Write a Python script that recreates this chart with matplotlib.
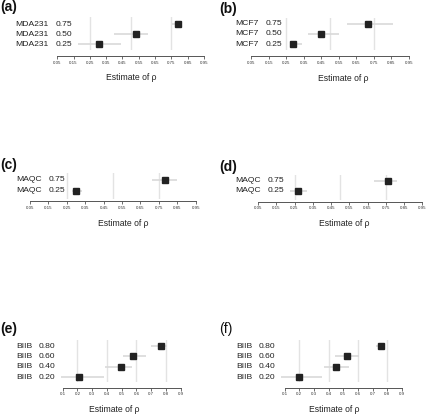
import matplotlib
matplotlib.use("Agg")
import matplotlib.pyplot as plt
import matplotlib.transforms as mtransforms
import numpy as np

plt.rcParams['font.family'] = ['Liberation Sans', 'DejaVu Sans']

# ---- data ----
names_a = ["MDA231", "MDA231", "MDA231"]
nominal_a = ["0.75", "0.50", "0.25"]
est_a = [0.789, 0.531, 0.306]
lo_a = [0.752, 0.398, 0.179]
hi_a = [0.813, 0.608, 0.440]

names_b = ["MCF7", "MCF7", "MCF7"]
nominal_b = ["0.75", "0.50", "0.25"]
est_b = [0.720, 0.449, 0.288]
lo_b = [0.595, 0.377, 0.270]
hi_b = [0.860, 0.553, 0.340]

names_c = ["MAQC", "MAQC"]
nominal_c = ["0.75", "0.25"]
est_c = [0.781, 0.301]
lo_c = [0.713, 0.277]
hi_c = [0.849, 0.332]

names_d = ["MAQC", "MAQC"]
nominal_d = ["0.75", "0.25"]
est_d = [0.763, 0.268]
lo_d = [0.687, 0.226]
hi_d = [0.810, 0.318]

names_e = ["BIIB", "BIIB", "BIIB", "BIIB"]
nominal_e = ["0.80", "0.60", "0.40", "0.20"]
est_e = [0.764, 0.577, 0.493, 0.208]
lo_e = [0.697, 0.507, 0.387, 0.090]
hi_e = [0.805, 0.665, 0.572, 0.382]

names_f = ["BIIB", "BIIB", "BIIB", "BIIB"]
nominal_f = ["0.80", "0.60", "0.40", "0.20"]
est_f = [0.755, 0.523, 0.450, 0.200]
lo_f = [0.723, 0.445, 0.368, 0.075]
hi_f = [0.785, 0.607, 0.541, 0.357]

ticks_abcd = [0.05, 0.15, 0.25, 0.35, 0.45, 0.55, 0.65, 0.75, 0.85, 0.95]
tick_labels_abcd = ["0.05", "0.15", "0.25", "0.35", "0.45", "0.55", "0.65", "0.75", "0.85", "0.95"]
ticks_ef = [0.1, 0.2, 0.3, 0.4, 0.5, 0.6, 0.7, 0.8, 0.9]
tick_labels_ef = ["0.1", "0.2", "0.3", "0.4", "0.5", "0.6", "0.7", "0.8", "0.9"]
grid_abcd = [0.25, 0.50, 0.75]
grid_ef = [0.2, 0.4, 0.6, 0.8]

W, H = 427, 415
fig = plt.figure(figsize=(W / 100, H / 100), dpi=100)

# layout in pixels: letter pos, tick range px, first/last row px, grid top/bottom, spine y,
# name x, value x, xlabel center x
panels = [
    ("(a)", "bold", (0, 7), names_a, nominal_a, est_a, lo_a, hi_a, ticks_abcd, tick_labels_abcd, grid_abcd,
     (57.3, 204.0), (24, 44), (17, 50), 56.0, 15.7, 55.7, 131.5),
    ("(b)", "bold", (219.5, 9), names_b, nominal_b, est_b, lo_b, hi_b, ticks_abcd, tick_labels_abcd, grid_abcd,
     (251.3, 408.7), (24, 44), (18, 50), 56.5, 235.7, 265.7, 343.0),
    ("(c)", "bold", (0, 165), names_c, nominal_c, est_c, lo_c, hi_c, ticks_abcd, tick_labels_abcd, grid_abcd,
     (30.0, 195.7), (180, 191), (173, 199), 201.5, 16.0, 48.3, 123.0),
    ("(d)", "bold", (219.5, 167), names_d, nominal_d, est_d, lo_d, hi_d, ticks_abcd, tick_labels_abcd, grid_abcd,
     (258.0, 422.3), (180.7, 190.7), (175, 200), 201.7, 235.7, 268.0, 344.0),
    ("(e)", "bold", (0, 329), names_e, nominal_e, est_e, lo_e, hi_e, ticks_ef, tick_labels_ef, grid_ef,
     (62.7, 180.7), (346, 377), (340, 382), 387.5, 16.0, 38.3, 114.0),
    ("(f)", "normal", (219.5, 329), names_f, nominal_f, est_f, lo_f, hi_f, ticks_ef, tick_labels_ef, grid_ef,
     (284.7, 402.0), (346, 377), (340, 382), 387.5, 236.3, 258.7, 334.5),
]

for (letter, weight, lpos, names, nominal, est, lo, hi, ticks, tlabels, grid,
     xpx, rowpx, gridpx, spine_y, name_x, val_x, xlab_x) in panels:
    n = len(names)
    v0, v1 = ticks[0], ticks[-1]
    s = (v1 - v0) / (xpx[1] - xpx[0])
    pad = 8
    ax_left, ax_right = xpx[0] - pad, xpx[1] + pad
    ax_top, ax_bot = gridpx
    ax = fig.add_axes([ax_left / W, 1 - ax_bot / H, (ax_right - ax_left) / W, (ax_bot - ax_top) / H])
    ax.set_xlim(v0 - pad * s, v1 + pad * s)
    d = (rowpx[1] - rowpx[0]) / (n - 1)
    y_top = 1 + (rowpx[1] - ax_top) / d
    y_bot = 1 + (rowpx[1] - ax_bot) / d
    ax.set_ylim(y_bot, y_top)
    ys = np.arange(n, 0, -1)

    for g in grid:
        ax.axvline(g, color="#e3e3e3", lw=1.0, zorder=1)
    ax.hlines(ys, lo, hi, color="#d9d9d9", lw=1.2, zorder=2)
    ax.plot(est, ys, ls="none", marker="s", ms=4.6, color="#222222", zorder=3)

    for sp in ["top", "right", "left"]:
        ax.spines[sp].set_visible(False)
    ax.spines["bottom"].set_position(("outward", (spine_y - ax_bot) * 0.72))
    ax.spines["bottom"].set_bounds(v0, v1)
    ax.spines["bottom"].set_color("#555555")
    ax.spines["bottom"].set_linewidth(0.7)
    ax.set_yticks([])
    ax.set_xticks(ticks)
    ax.set_xticklabels(tlabels)
    ax.tick_params(axis="x", length=2.2, width=0.6, color="#555555", pad=1.2,
                   labelsize=3.2, labelcolor="#333333")

    ax.set_xlabel("Estimate of ρ", fontsize=6.2, color="#222222")
    xl = (xlab_x - ax_left) / (ax_right - ax_left)
    ax.xaxis.set_label_coords(xl, -(78 - 56 + (spine_y - ax_bot)) / (ax_bot - ax_top) + 0.0)
    ax.xaxis.label.set_va("center")

    tr = mtransforms.blended_transform_factory(fig.transFigure, ax.transData)
    for yv, nm, nv in zip(ys, names, nominal):
        ax.text(name_x / W, yv, nm, transform=tr, fontsize=6.1, va="center", ha="left",
                color="#222222", clip_on=False)
        ax.text(val_x / W, yv, nv, transform=tr, fontsize=6.1, va="center", ha="left",
                color="#222222", clip_on=False)

    fig.text(lpos[0] / W, 1 - lpos[1] / H, letter, fontsize=10, fontweight=weight,
             va="center", ha="left", color="#111111")

fig.savefig("out.png", dpi=100)
